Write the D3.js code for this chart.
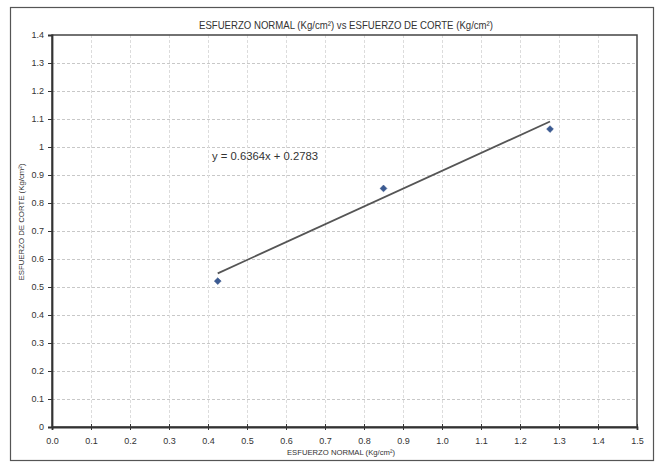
<!DOCTYPE html>
<html>
<head>
<meta charset="utf-8">
<script src="https://cdn.jsdelivr.net/npm/d3@7"></script>
<style>
  html, body { margin: 0; padding: 0; background: #fff; }
  svg { display: block; }
  text { font-family: "Liberation Sans Narrow", "Arial Narrow", "Liberation Sans", Arial, sans-serif; fill: #333; }
</style>
</head>
<body>
<svg id="chart" width="660" height="462"></svg>
<script>
// ---- data ----
const normalStress = [0.425, 0.85, 1.277];      // x: ESFUERZO NORMAL (Kg/cm²)
const shearStress  = [0.521, 0.852, 1.064];      // y: ESFUERZO DE CORTE (Kg/cm²)
const trendSlope = 0.6364;
const trendIntercept = 0.2783;
const xTickValues = [0.0,0.1,0.2,0.3,0.4,0.5,0.6,0.7,0.8,0.9,1.0,1.1,1.2,1.3,1.4,1.5];
const yTickValues = [0,0.1,0.2,0.3,0.4,0.5,0.6,0.7,0.8,0.9,1,1.1,1.2,1.3,1.4];
const chartTitle = "ESFUERZO NORMAL (Kg/cm²) vs ESFUERZO DE CORTE (Kg/cm²)";
const xTitle = "ESFUERZO NORMAL (Kg/cm²)";
const yTitle = "ESFUERZO DE CORTE (Kg/cm²)";
const equationLabel = "y = 0.6364x + 0.2783";

// ---- layout ----
const svg = d3.select("#chart");
const L = 52, R = 637, T = 35, B = 427;

const x = d3.scaleLinear().domain([0, 1.5]).range([L, R]);
const y = d3.scaleLinear().domain([0, 1.4]).range([B, T]);

// outer frame
svg.append("rect").attr("x", 10.5).attr("y", 7.5).attr("width", 643).attr("height", 453)
  .attr("fill", "#fff").attr("stroke", "#555").attr("stroke-width", 1.2);

// grid
svg.append("g").selectAll("line").data(yTickValues.filter(d => d > 0 && d < 1.4)).join("line")
  .attr("x1", L).attr("x2", R).attr("y1", d => Math.round(y(d)) + 0.5).attr("y2", d => Math.round(y(d)) + 0.5)
  .attr("stroke", "#c8c8c8").attr("stroke-width", 1).attr("stroke-dasharray", "3,2");
svg.append("g").selectAll("line").data(xTickValues.filter(d => d > 0 && d < 1.5)).join("line")
  .attr("y1", T).attr("y2", B).attr("x1", d => Math.round(x(d)) + 0.5).attr("x2", d => Math.round(x(d)) + 0.5)
  .attr("stroke", "#dcdcdc").attr("stroke-width", 1).attr("stroke-dasharray", "3,2");

// plot border
svg.append("rect").attr("x", L).attr("y", T).attr("width", R - L).attr("height", B - T)
  .attr("fill", "none").attr("stroke", "#444").attr("stroke-width", 1.5);

// axes
const yAxis = d3.axisLeft(y).tickValues(yTickValues).tickSize(4).tickPadding(4)
  .tickFormat(d => d3.format("")(Math.round(d * 10) / 10));
const gy = svg.append("g").attr("transform", `translate(${L},0)`).call(yAxis);
gy.select(".domain").attr("stroke", "#333").attr("stroke-width", 1.8);
gy.selectAll(".tick line").attr("stroke", "#333");
gy.selectAll(".tick text").attr("font-size", 9).attr("fill", "#444");

const xAxis = d3.axisBottom(x).tickValues(xTickValues).tickSize(3).tickPadding(8)
  .tickFormat(d3.format(".1f"));
const gx = svg.append("g").attr("transform", `translate(0,${B})`).call(xAxis);
gx.select(".domain").attr("stroke", "#333").attr("stroke-width", 1.8);
gx.selectAll(".tick line").attr("stroke", "#333").attr("y1", -3);
gx.selectAll(".tick text").attr("font-size", 9).attr("fill", "#444");

// titles
svg.append("text").attr("x", 346).attr("y", 29).attr("text-anchor", "middle")
  .attr("font-size", 10.5).attr("textLength", 294).attr("lengthAdjust", "spacingAndGlyphs")
  .text(chartTitle);
svg.append("text").attr("x", 341).attr("y", 455).attr("text-anchor", "middle")
  .attr("font-size", 8).attr("textLength", 108).attr("lengthAdjust", "spacingAndGlyphs")
  .text(xTitle);
svg.append("text").attr("transform", `translate(24,222) rotate(-90)`)
  .attr("text-anchor", "middle").attr("font-size", 8)
  .attr("textLength", 117).attr("lengthAdjust", "spacingAndGlyphs").text(yTitle);

// trendline
const xMin = d3.min(normalStress), xMax = d3.max(normalStress);
const trend = [xMin, xMax].map(v => [v, trendSlope * v + trendIntercept]);
svg.append("path").datum(trend)
  .attr("d", d3.line().x(d => x(d[0])).y(d => y(d[1])))
  .attr("fill", "none").attr("stroke", "#555").attr("stroke-width", 1.8);

// points
svg.append("g").selectAll("path").data(normalStress.map((v, i) => [v, shearStress[i]])).join("path")
  .attr("transform", d => `translate(${x(d[0])},${y(d[1])})`)
  .attr("d", d3.symbol(d3.symbolDiamond2, 30)())
  .attr("fill", "#3a5a92").attr("stroke", "#2e4a80").attr("stroke-width", 0.5);

// equation
svg.append("text").attr("x", 212).attr("y", 160).attr("font-size", 10.5).attr("fill", "#333")
  .attr("textLength", 106).attr("lengthAdjust", "spacingAndGlyphs")
  .text(equationLabel);
</script>
</body>
</html>
